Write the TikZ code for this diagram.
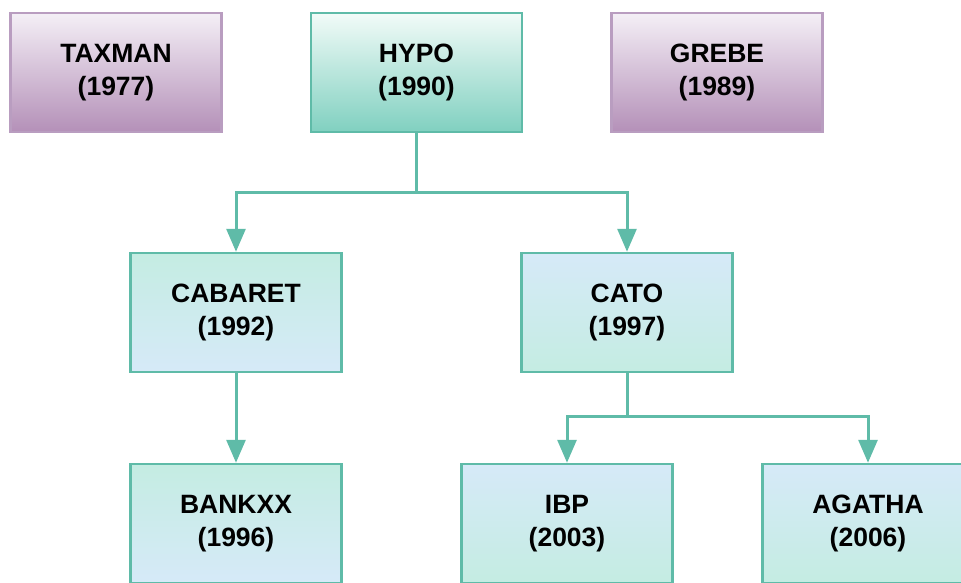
\documentclass[tikz,border=0pt]{standalone}
\usepackage{fontspec}
\setmainfont{Liberation Sans}
\usetikzlibrary{arrows.meta}
\definecolor{tealline}{HTML}{5FBBA8}
\definecolor{plumline}{HTML}{B99DC0}
\definecolor{plumtop}{HTML}{F4EFF6}
\definecolor{plumbot}{HTML}{B490B8}
\definecolor{tealtop}{HTML}{F2FBF8}
\definecolor{tealbot}{HTML}{80D0C0}
\definecolor{skyfill}{HTML}{D6EAF8}
\definecolor{mintfill}{HTML}{C4ECE2}
\begin{document}
\begin{tikzpicture}[x=1pt,y=-1pt,
  box/.style={draw, line width=2.5pt, minimum width=211pt, minimum height=119pt,
    inner sep=0pt, align=center, text=black,
    font=\bfseries\fontsize{26.5}{32.5}\selectfont},
  plumbox/.style={box, draw=plumline, top color=plumtop, bottom color=plumbot},
  rootbox/.style={box, draw=tealline, top color=tealtop, bottom color=tealbot},
  mintbox/.style={box, draw=tealline, top color=mintfill, bottom color=skyfill},
  skybox/.style={box, draw=tealline, top color=skyfill, bottom color=mintfill},
  conn/.style={draw=tealline, line width=3pt,
    -{Triangle[length=23pt,width=19pt]}}]
\useasboundingbox (0,0) rectangle (961,582);
\clip (0,0) rectangle (961,582);

% top row
\node[plumbox] (taxman) at (116,72.5) {TAXMAN\\(1977)};
\node[rootbox] (hypo) at (416.5,72.5) {HYPO\\(1990)};
\node[plumbox] (grebe) at (717,72.5) {GREBE\\(1989)};

% middle row
\node[mintbox] (cabaret) at (236,312.5) {CABARET\\(1992)};
\node[skybox] (cato) at (627,312.5) {CATO\\(1997)};

% bottom row
\node[mintbox] (bankxx) at (236,523.5) {BANKXX\\(1996)};
\node[skybox] (ibp) at (567,523.5) {IBP\\(2003)};
\node[skybox] (agatha) at (868,523.5) {AGATHA\\(2006)};

% branching connectors
\coordinate (hypojoin) at (416.5,192);
\coordinate (catojoin) at (627,416);
\draw[conn] (hypo.south) -- (hypojoin) -| (cabaret.north);
\draw[conn] (hypojoin) -| (cato.north);
\draw[conn] (cabaret.south) -- (bankxx.north);
\draw[conn] (cato.south) -- (catojoin) -| (ibp.north);
\draw[conn] (catojoin) -| (agatha.north);
\end{tikzpicture}
\end{document}
